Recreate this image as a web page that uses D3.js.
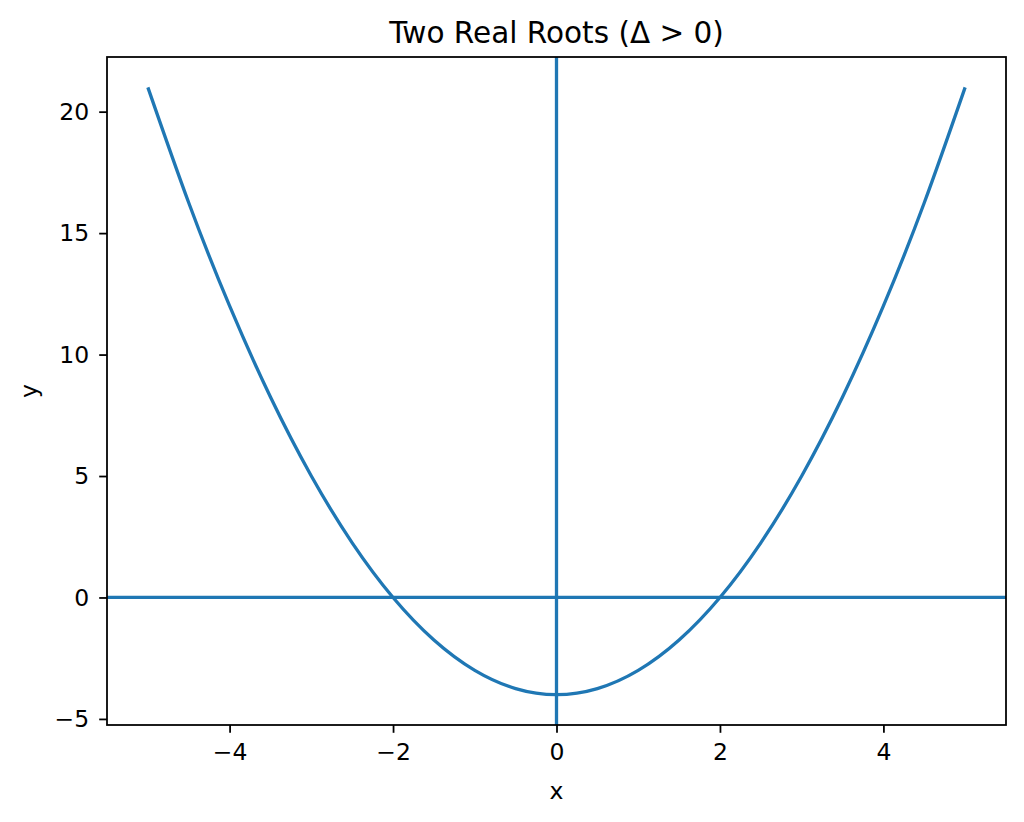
<!DOCTYPE html>
<html>
<head>
<meta charset="utf-8">
<script src="https://cdn.jsdelivr.net/npm/d3@7"></script>
<style>
  body { margin: 0; background: #fff; }
  text { font-family: "DejaVu Sans", sans-serif; fill: #000; }
</style>
</head>
<body>
<div id="chart"></div>
<script>
// points
var xValues = [-5, -4.5, -4, -3.5, -3, -2.5, -2, -1.5, -1, -0.5, 0, 0.5, 1, 1.5, 2, 2.5, 3, 3.5, 4, 4.5, 5];
var yValues = [21, 16.25, 12, 8.25, 5, 2.25, 0, -1.75, -3, -3.75, -4, -3.75, -3, -1.75, 0, 2.25, 5, 8.25, 12, 16.25, 21];
var xTicks = [-4, -2, 0, 2, 4];
var yTicks = [-5, 0, 5, 10, 15, 20];
var titleText = "Two Real Roots (\u0394 > 0)";

var W = 1024, H = 822;
var margin = {top: 57, right: 18, bottom: 97, left: 107},
    width = W - margin.left - margin.right,
    height = H - margin.top - margin.bottom;

var svg = d3.select("#chart")
  .append("svg")
    .attr("width", W)
    .attr("height", H)
  .append("g")
    .attr("transform", "translate(" + margin.left + "," + margin.top + ")");

var x = d3.scaleLinear().domain([-5.5, 5.5]).range([0, width]);
var y = d3.scaleLinear().domain([-5.25, 22.25]).range([height, 0]);

var blue = "#1f77b4";
var fmt = function(d) { return d < 0 ? "\u2212" + Math.abs(d) : "" + d; };

svg.append("defs").append("clipPath").attr("id", "clip")
  .append("rect").attr("width", width).attr("height", height);

var plot = svg.append("g").attr("clip-path", "url(#clip)");

var data = xValues.map(function(d, i) { return {x: d, y: yValues[i]}; });

var line = d3.line()
  .x(function(d) { return x(d.x); })
  .y(function(d) { return y(d.y); })
  .curve(d3.curveNatural);

plot.append("path")
  .datum(data)
  .attr("d", line)
  .attr("fill", "none")
  .attr("stroke", blue)
  .attr("stroke-width", 3.3)
  .attr("stroke-linejoin", "round");

// axhline / axvline at 0
plot.append("line")
  .attr("x1", 0).attr("x2", width)
  .attr("y1", y(0)).attr("y2", y(0))
  .attr("stroke", blue).attr("stroke-width", 3.3);
plot.append("line")
  .attr("x1", x(0)).attr("x2", x(0))
  .attr("y1", 0).attr("y2", height)
  .attr("stroke", blue).attr("stroke-width", 3.3);

var xAxis = svg.append("g")
  .attr("transform", "translate(0," + height + ")")
  .call(d3.axisBottom(x).tickValues(xTicks).tickFormat(fmt).tickSizeOuter(0).tickSize(7.8).tickPadding(11));
var yAxis = svg.append("g")
  .call(d3.axisLeft(y).tickValues(yTicks).tickFormat(fmt).tickSizeOuter(0).tickSize(7.8).tickPadding(10));

[xAxis, yAxis].forEach(function(a) {
  a.select(".domain").remove();
  a.selectAll(".tick line").attr("stroke", "#000").attr("stroke-width", 1.78);
  a.selectAll(".tick text").style("font-size", "23.5px").style("font-family", "DejaVu Sans, sans-serif").attr("fill", "#000");
});

svg.append("rect")
  .attr("width", width).attr("height", height)
  .attr("fill", "none").attr("stroke", "#000").attr("stroke-width", 1.78);

svg.append("text")
  .attr("x", width / 2).attr("y", -14)
  .attr("text-anchor", "middle")
  .style("font-size", "29.5px")
  .text(titleText);

svg.append("text")
  .attr("x", width / 2).attr("y", height + 74)
  .attr("text-anchor", "middle")
  .style("font-size", "23.5px")
  .text("x");

svg.append("text")
  .attr("transform", "translate(-70," + height / 2 + ") rotate(-90)")
  .attr("text-anchor", "middle")
  .style("font-size", "23.5px")
  .text("y");
</script>
</body>
</html>
